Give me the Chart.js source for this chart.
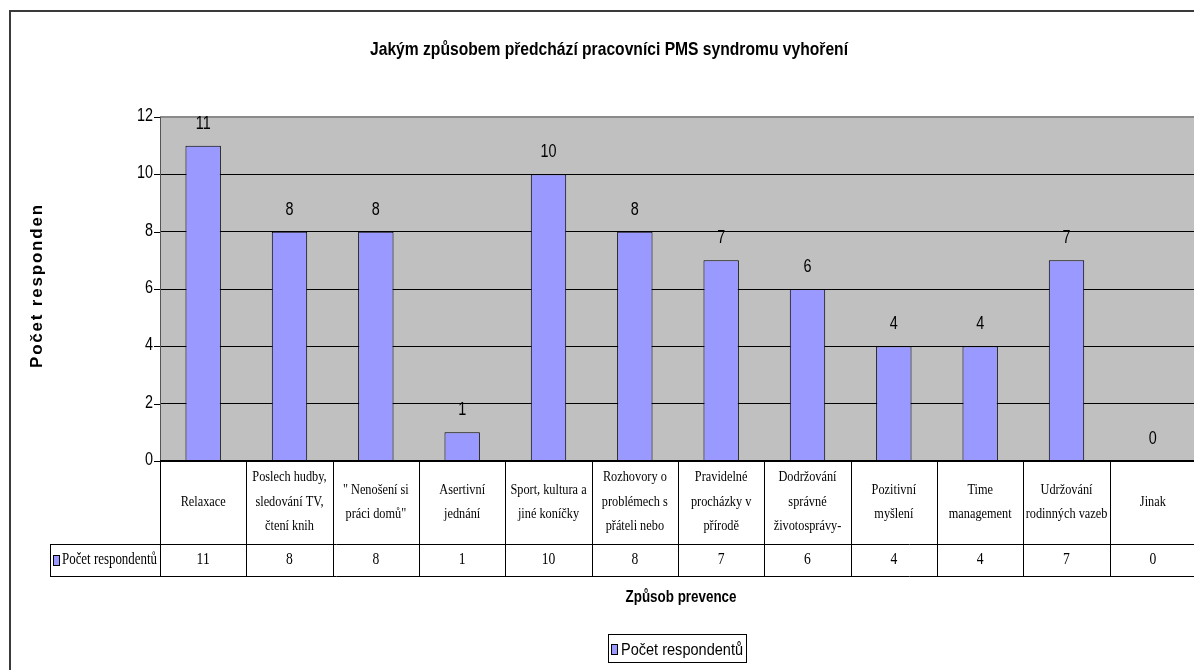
<!DOCTYPE html>
<html>
<head>
<meta charset="utf-8">
<script src="https://cdn.jsdelivr.net/npm/chart.js@4"></script>
<style>
  html, body { margin: 0; padding: 0; background: #fff; overflow: hidden; }
  #wrap { width: 1200px; height: 670px; }
</style>
</head>
<body>
<div id="wrap"><canvas id="c" width="1200" height="670" style="width:1200px;height:670px"></canvas></div>
<script>
// ---- data ----
const chartTitle = 'Jakým způsobem předchází pracovníci PMS syndromu vyhoření';
const xAxisTitle = 'Způsob prevence';
const yAxisTitle = 'Počet respondentů';
const seriesName = 'Počet respondentů';
const categoryLines = [
  ['Relaxace'],
  ['Poslech hudby,', 'sledování TV,', 'čtení knih'],
  ['" Nenošení si', 'práci domů"'],
  ['Asertivní', 'jednání'],
  ['Sport, kultura a', 'jiné koníčky'],
  ['Rozhovory o', 'problémech s', 'přáteli nebo'],
  ['Pravidelné', 'procházky v', 'přírodě'],
  ['Dodržování', 'správné', 'životosprávy-'],
  ['Pozitivní', 'myšlení'],
  ['Time', 'management'],
  ['Udržování', 'rodinných vazeb'],
  ['Jinak']
];
const categories = categoryLines.map(l => l.join(' '));
const counts = [11, 8, 8, 1, 10, 8, 7, 6, 4, 4, 7, 0];
const yTicks = [0, 2, 4, 6, 8, 10, 12];

// ---- style ----
const BAR = '#9999FF';
const PLOT_BG = '#C0C0C0';
const SANS = '"Liberation Sans", Arial, sans-serif';
const NARROW = '"Liberation Sans Narrow", "Liberation Sans", Arial, sans-serif';
const SERIF = '"Liberation Serif", "Times New Roman", serif';

function txt(ctx, s, x, y, font, align, sx, color) {
  ctx.save();
  ctx.font = font;
  ctx.fillStyle = color || '#000';
  ctx.textAlign = align || 'center';
  ctx.textBaseline = 'middle';
  ctx.translate(x, y);
  ctx.scale(sx || 1, 1);
  ctx.fillText(s, 0, 0);
  ctx.restore();
}
function fitTxt(ctx, s, x, y, font, width, align) {
  ctx.save();
  ctx.font = font;
  const w = ctx.measureText(s).width;
  ctx.restore();
  txt(ctx, s, x, y, font, align || 'center', width / w);
}

const decor = {
  id: 'decor',
  beforeDraw(chart) {
    const { ctx, chartArea: a } = chart;
    ctx.save();
    ctx.fillStyle = '#fff';
    ctx.fillRect(0, 0, chart.width, chart.height);
    ctx.fillStyle = PLOT_BG;
    ctx.fillRect(a.left, a.top, a.right - a.left, a.bottom - a.top);
    ctx.fillStyle = '#3a3a3a';
    ctx.fillRect(9, 10, chart.width, 2);
    ctx.fillRect(9, 10, 2, chart.height);
    ctx.restore();
  },
  afterDatasetsDraw(chart) {
    const { ctx, chartArea: a, scales } = chart;
    const y = scales.y, x = scales.x;
    ctx.save();
    ctx.fillStyle = '#8a8a8a';
    ctx.fillRect(a.left, a.top - 1, a.right - a.left, 2);
    ctx.fillStyle = '#555';
    ctx.fillRect(a.left, a.top, 1, a.bottom - a.top);
    ctx.strokeStyle = '#000';
    ctx.lineWidth = 1;
    yTicks.forEach(v => {
      const py = Math.round(y.getPixelForValue(v)) + 0.5;
      ctx.beginPath(); ctx.moveTo(a.left - 6, py); ctx.lineTo(a.left, py); ctx.stroke();
      txt(ctx, String(v), a.left - 7, py - 1, '18px ' + SANS, 'right', 0.8);
    });
    ctx.fillStyle = '#000';
    ctx.fillRect(a.left, a.bottom - 1, a.right - a.left, 2);
    const meta = chart.getDatasetMeta(0);
    meta.data.forEach((bar, i) => {
      txt(ctx, String(counts[i]), bar.x, bar.y - 22, '18px ' + SANS, 'center', 0.8);
    });
    // data table
    const colW = (a.right - a.left) / categories.length;
    const r1 = a.bottom, r2 = 544, r3 = 576;
    ctx.strokeStyle = '#000';
    ctx.lineWidth = 1;
    for (let i = 0; i <= categories.length; i++) {
      const px = Math.round(a.left + i * colW) + 0.5;
      ctx.beginPath(); ctx.moveTo(px, r1); ctx.lineTo(px, r3); ctx.stroke();
    }
    ctx.beginPath(); ctx.moveTo(50.5, r2); ctx.lineTo(50.5, r3); ctx.stroke();
    ctx.beginPath(); ctx.moveTo(50, r2 + 0.5); ctx.lineTo(a.right, r2 + 0.5); ctx.stroke();
    ctx.beginPath(); ctx.moveTo(50, r3 + 0.5); ctx.lineTo(a.right, r3 + 0.5); ctx.stroke();
    categoryLines.forEach((lines, i) => {
      const cx = x.getPixelForValue(i);
      const lh = 24.5;
      const y0 = 502 - (lines.length - 1) * lh / 2;
      lines.forEach((ln, j) => txt(ctx, ln, cx, y0 + j * lh, '15px ' + SERIF, 'center', 0.82));
      txt(ctx, String(counts[i]), cx, 560, '16px ' + SERIF, 'center', 0.85);
    });
    ctx.fillStyle = BAR;
    ctx.fillRect(53.5, 555.5, 6, 10);
    ctx.strokeRect(53.5, 555.5, 6, 10);
    fitTxt(ctx, seriesName, 62, 560, '16px ' + SERIF, 95, 'left');
    // titles
    fitTxt(ctx, chartTitle, 609, 50, 'bold 19px ' + NARROW, 478);
    fitTxt(ctx, xAxisTitle, 681, 597, 'bold 17px ' + NARROW, 111);
    // y axis title (clipped as in the original)
    ctx.save();
    ctx.beginPath(); ctx.rect(0, 203, 150, 300); ctx.clip();
    ctx.translate(37, 368);
    ctx.rotate(-Math.PI / 2);
    ctx.font = 'bold 17px ' + SANS;
    ctx.letterSpacing = '1.8px';
    ctx.fillStyle = '#000';
    ctx.textAlign = 'left';
    ctx.textBaseline = 'middle';
    ctx.fillText(yAxisTitle, 0, 0);
    ctx.restore();
    // legend
    ctx.strokeStyle = '#000';
    ctx.strokeRect(608.5, 634.5, 138, 28);
    ctx.fillStyle = BAR;
    ctx.fillRect(611.5, 644.5, 6, 10);
    ctx.strokeRect(611.5, 644.5, 6, 10);
    fitTxt(ctx, seriesName, 621, 650, '17px ' + SANS, 122, 'left');
    ctx.restore();
  }
};

new Chart(document.getElementById('c'), {
  type: 'bar',
  data: {
    labels: categories,
    datasets: [{
      label: seriesName,
      data: counts,
      backgroundColor: BAR,
      borderColor: '#000',
      borderWidth: 1,
      barPercentage: 0.41,
      categoryPercentage: 1
    }]
  },
  options: {
    responsive: false,
    animation: false,
    devicePixelRatio: 1,
    layout: { padding: { top: 117, bottom: 209, left: 0, right: 4 } },
    plugins: { legend: { display: false }, title: { display: false }, tooltip: { enabled: false } },
    scales: {
      x: { display: false },
      y: {
        min: 0, max: 12,
        ticks: { stepSize: 2, display: false },
        grid: { color: '#000', lineWidth: 1, drawTicks: false },
        border: { display: false },
        afterFit(s) { s.width = 160; }
      }
    }
  },
  plugins: [decor]
});
</script>
</body>
</html>
